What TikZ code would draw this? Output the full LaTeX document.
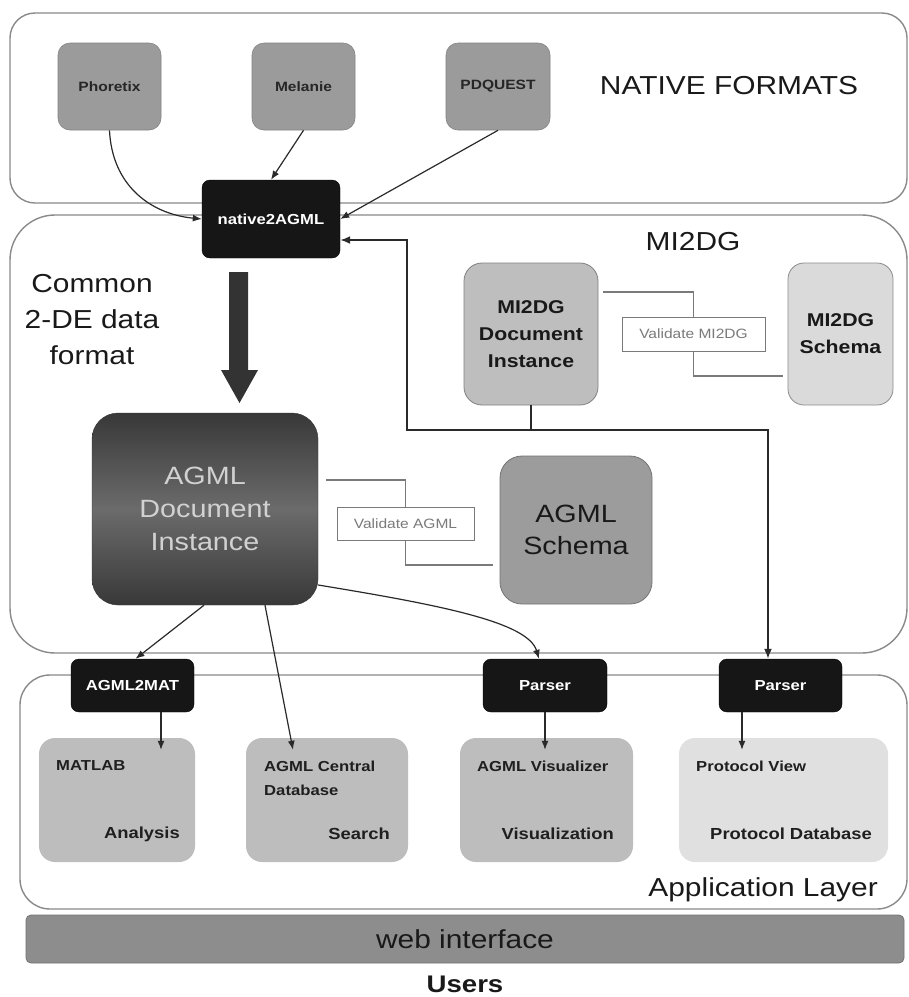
\documentclass[tikz,border=0pt]{standalone}
\usepackage{fontspec}
\setmainfont{Liberation Sans}[FakeStretch=1.15]
\usetikzlibrary{arrows.meta,calc}
\definecolor{panelc}{HTML}{8A8A8A}
\definecolor{topbox}{HTML}{9B9B9B}
\definecolor{blk}{HTML}{161616}
\definecolor{schemac}{HTML}{9C9C9C}
\definecolor{mdocc}{HTML}{BEBEBE}
\definecolor{mschc}{HTML}{DADADA}
\definecolor{appc}{HTML}{BDBDBD}
\definecolor{protc}{HTML}{E0E0E0}
\definecolor{webc}{HTML}{8D8D8D}
\definecolor{linec}{HTML}{2A2A2A}
\definecolor{valc}{HTML}{7A7A7A}
\tikzset{
  panel/.style={draw=panelc, line width=1.4pt, fill=white},
  box/.style={inner sep=0pt, align=center},
  srcbox/.style={box, fill=topbox, draw=topbox!85!black, line width=0.6pt, rounded corners=12pt, text=black!85, font=\bfseries\fontsize{13.5}{16}\selectfont},
  blkbox/.style={box, fill=blk, draw=black, rounded corners=8pt, text=white, font=\bfseries\fontsize{14.5}{17}\selectfont},
  bigtxt/.style={inner sep=0pt, font=\fontsize{26}{36}\selectfont, text=black!90},
  valbox/.style={box, fill=white, draw=valc, line width=1pt, text=valc, font=\fontsize{13.5}{16}\selectfont},
  vline/.style={draw=valc, line width=1.2pt},
  appbox/.style={box, fill=appc, rounded corners=16pt},
  apptxt/.style={inner sep=0pt, text=black!88, font=\bfseries\fontsize{14.5}{17}\selectfont},
  apptxtb/.style={inner sep=0pt, text=black!88, font=\bfseries\fontsize{16}{19}\selectfont},
  arr/.style={draw=linec, line width=1.2pt, -{Latex[length=9pt,width=7pt]}},
}
\begin{document}
\begin{tikzpicture}[x=1pt,y=-1pt]
\useasboundingbox (0,0) rectangle (909,997);
\fill[white] (0,0) rectangle (909,997);

% panels
\draw[panel, rounded corners=25pt] (10,13) rectangle (907,203);
\draw[panel, rounded corners=45pt] (10,215) rectangle (907,653);
\draw[panel, rounded corners=30pt] (20,675) rectangle (907,909);

% native formats
\node[srcbox, minimum width=103pt, minimum height=87pt] (phoretix) at (109.5,86.5) {Phoretix};
\node[srcbox, minimum width=103pt, minimum height=87pt] (melanie) at (303.5,86.5) {Melanie};
\node[srcbox, minimum width=104pt, minimum height=87pt] (pdquest) at (498,86.5) {PDQUEST};
\node[bigtxt] (natlbl) at (729,86) {NATIVE FORMATS};

\node[blkbox, minimum width=138pt, minimum height=78pt] (native) at (271,219) {native2AGML};

% MI2DG
\node[bigtxt] (milbl) at (693,242) {MI2DG};
\node[bigtxt, align=center] (common) at (92,320) {Common\\2-DE data\\format};

% big arrow
\fill[black!80] (229,272) -- (248,272) -- (248,370) -- (258,370) -- (239.5,403) -- (221,370) -- (229,370) -- cycle;

\node[box, minimum width=226pt, minimum height=192pt, rounded corners=26pt, draw=black!80,
  top color=black!78, bottom color=black!78, middle color=black!58,
  text=black!18, font=\fontsize{25}{33}\selectfont] (agmldoc) at (205,509) {AGML\\Document\\Instance};
\node[box, minimum width=152pt, minimum height=148pt, rounded corners=22pt, fill=schemac, draw=black!55, line width=0.8pt,
  text=black!90, font=\fontsize{25}{32}\selectfont] (agmlsch) at (576,530) {AGML\\Schema};
\node[valbox, minimum width=137pt, minimum height=33pt] (vagml) at (405.5,523.5) {Validate AGML};

\node[box, minimum width=134pt, minimum height=142pt, rounded corners=18pt, fill=mdocc, draw=black!50, line width=0.8pt,
  text=black!90, font=\bfseries\fontsize{18.5}{27}\selectfont] (mdoc) at (531,334) {MI2DG\\Document\\Instance};
\node[box, minimum width=105pt, minimum height=142pt, rounded corners=16pt, fill=mschc, draw=black!45, line width=0.8pt,
  text=black!90, font=\bfseries\fontsize{18.5}{27}\selectfont] (msch) at (840.5,334) {MI2DG\\Schema};
\node[valbox, minimum width=143pt, minimum height=34pt] (vmi) at (693.5,334) {Validate MI2DG};

% validate lines
\draw[vline] ($(mdoc.east)+(5,-42)$) -| (vmi.north);
\draw[vline] (vmi.south) |- ($(msch.west)+(-5,42)$);
\draw[vline] ($(agmldoc.east)+(8,-29)$) -| (vagml.north);
\draw[vline] (vagml.south) |- ($(agmlsch.west)+(-7,35)$);

% converter boxes
\node[blkbox, minimum width=123pt, minimum height=53pt] (a2m) at (132.5,685.5) {AGML2MAT};
\node[blkbox, minimum width=124pt, minimum height=53pt] (parser1) at (545,685.5) {Parser};
\node[blkbox, minimum width=123pt, minimum height=53pt] (parser2) at (780.5,685.5) {Parser};

% application boxes
\node[appbox, minimum width=156pt, minimum height=124pt] (matlab) at (117,800) {};
\node[appbox, minimum width=162pt, minimum height=124pt] (central) at (327,800) {};
\node[appbox, minimum width=173pt, minimum height=124pt] (visual) at (546.5,800) {};
\node[appbox, fill=protc, minimum width=209pt, minimum height=124pt] (protocol) at (783.5,800) {};

\node[apptxt, anchor=west] (t1) at (56,766) {MATLAB};
\node[apptxtb, anchor=east] (t2) at (180,834) {Analysis};
\node[apptxt, anchor=west] (t3) at (264,766) {AGML Central};
\node[apptxt, anchor=west] (t4) at (264,790) {Database};
\node[apptxtb, anchor=east] (t5) at (390,834) {Search};
\node[apptxt, anchor=west] (t6) at (477,766) {AGML Visualizer};
\node[apptxtb, anchor=east] (t7) at (614,834) {Visualization};
\node[apptxt, anchor=west] (t8) at (696,766) {Protocol View};
\node[apptxtb, anchor=east] (t9) at (872,834) {Protocol Database};

\node[bigtxt, anchor=east] (applbl) at (878,890) {Application Layer};

% web interface & users
\node[box, minimum width=878pt, minimum height=48pt, rounded corners=5pt, fill=webc, draw=black!55, line width=0.8pt,
  text=black!90, font=\fontsize{26}{30}\selectfont] (web) at (465,939) {web interface};
\node[inner sep=0pt, anchor=base, text=black!90, font=\bfseries\fontsize{24}{28}\selectfont] (users) at (465,992) {Users};

% connectors
\draw[arr] (phoretix.south) .. controls (112,185) and (150,214) .. (native.west);
\draw[arr] (melanie.south) -- (native.north);
\draw[arr] (pdquest.south) -- (native.east);

\coordinate (bA) at (407,240);
\coordinate (bB) at (407,430);
\coordinate (bC) at (768,430);
\draw[draw=linec, line width=1.8pt, {Latex[length=10pt,width=8pt]}-{Latex[length=10pt,width=8pt]}]
  (native.east |- bA) -- (bA) -- (bB) -- (bC) -- (bC |- parser2.north);
\draw[draw=linec, line width=1.8pt] (mdoc.south) -- (mdoc.south |- bB);

\draw[arr] ($(agmldoc.south)+(-1,0)$) -- ($(a2m.north)+(3,0)$);
\draw[arr] ($(agmldoc.south)+(60,0)$) -- ($(central.north)+(-34,12)$);
\draw[arr] ($(agmldoc.east)+(0,76)$) .. controls (440,605) and (528,622) .. ($(parser1.north)+(-6,0)$);

\draw[arr] ($(a2m.south)+(28.5,0)$) -- ($(matlab.north)+(44,12)$);
\draw[arr] (parser1.south) -- ($(visual.north)+(-1.5,12)$);
\draw[arr] ($(parser2.south)+(-38.5,0)$) -- ($(protocol.north)+(-41.5,12)$);
\end{tikzpicture}
\end{document}
